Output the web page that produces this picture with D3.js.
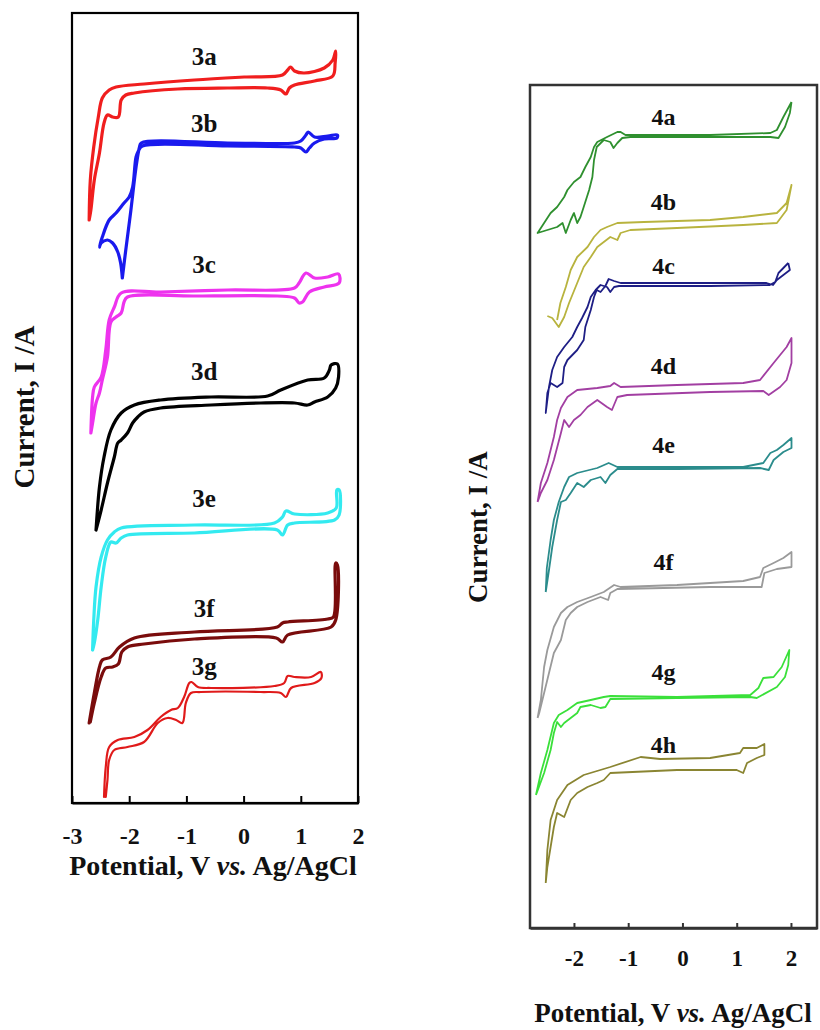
<!DOCTYPE html>
<html>
<head>
<meta charset="utf-8">
<script src="https://cdn.jsdelivr.net/npm/d3@7"></script>
<style>
  body { margin: 0; background: #ffffff; }
  svg { display: block; }
  text { font-family: "Liberation Serif", "Times New Roman", serif; font-weight: bold; fill: #111; }
</style>
</head>
<body>
<svg id="chart" width="820" height="1030"></svg>
<script>
// tick values for the two potential axes (V vs. Ag/AgCl)
const ticksLeft = [-3, -2, -1, 0, 1, 2];
const ticksRight = [-2, -1, 0, 1, 2];

// cyclic voltammograms, [potential V, current a.u. (stacked)]
const cv3a = [[-2.70,583],[-2.68,623],[-2.62,656],[-2.54,686],[-2.47,705],[-2.35,713],[-2.23,716],[-1.74,719],[-0.86,723],[0.01,726],[0.68,728],[0.77,733],[0.82,736],[0.89,732],[1.06,730],[1.41,735],[1.56,743],[1.61,752],[1.60,740],[1.56,727],[1.24,722],[0.89,718],[0.80,715],[0.74,709],[0.65,713],[0.42,715],[-0.28,715],[-1.15,714],[-1.91,710],[-2.06,708],[-2.14,703],[-2.19,686],[-2.29,686],[-2.38,688],[-2.44,680],[-2.52,650],[-2.61,623],[-2.67,593],[-2.70,583]];
const cv3b = [[-2.12,525],[-2.06,553],[-1.97,593],[-1.88,636],[-1.82,656],[-1.79,660],[-0.28,660],[0.89,660],[1.00,662],[1.09,668],[1.13,671],[1.24,666],[1.47,667],[1.64,668],[1.63,665],[1.41,664],[1.24,660],[1.15,655],[1.09,651],[1.00,655],[0.89,656],[-0.28,657],[-1.77,657],[-1.84,652],[-1.88,646],[-1.94,616],[-2.00,606],[-2.09,600],[-2.23,590],[-2.35,583],[-2.47,566],[-2.52,556],[-2.49,560],[-2.38,563],[-2.29,560],[-2.20,551],[-2.15,540],[-2.12,525]];
const cv3c = [[-2.67,370],[-2.64,406],[-2.61,416],[-2.49,426],[-2.41,453],[-2.35,483],[-2.26,496],[-2.14,510],[-1.45,511],[-0.28,513],[0.89,515],[0.97,520],[1.09,530],[1.24,525],[1.47,526],[1.66,529],[1.67,520],[1.41,516],[1.15,511],[1.03,501],[0.97,500],[0.89,505],[0.59,507],[-0.86,507],[-2.03,506],[-2.09,501],[-2.14,490],[-2.23,486],[-2.32,481],[-2.38,446],[-2.47,423],[-2.52,410],[-2.58,400],[-2.64,380],[-2.67,370]];
const cv3d = [[-2.58,273],[-2.52,316],[-2.44,346],[-2.32,373],[-2.14,390],[-1.91,398],[-1.45,403],[-0.57,406],[0.42,407],[0.65,413],[1.12,423],[1.41,425],[1.50,433],[1.53,438],[1.64,439],[1.66,426],[1.61,415],[1.47,406],[1.24,401],[1.12,398],[0.89,400],[0.30,400],[-0.57,398],[-1.45,395],[-1.74,391],[-1.85,386],[-1.94,380],[-2.03,370],[-2.14,363],[-2.20,360],[-2.26,346],[-2.38,320],[-2.49,293],[-2.58,273]];
const cv3e = [[-2.64,153],[-2.62,183],[-2.58,216],[-2.49,246],[-2.38,263],[-2.26,271],[-2.14,275],[-0.86,278],[0.54,280],[0.68,286],[0.74,292],[0.89,289],[1.47,290],[1.62,295],[1.63,313],[1.67,313],[1.67,288],[1.59,283],[0.89,280],[0.77,278],[0.68,268],[0.59,273],[-0.86,270],[-2.03,268],[-2.14,265],[-2.23,260],[-2.32,261],[-2.41,246],[-2.49,216],[-2.55,183],[-2.61,160],[-2.64,153]];
const cv3f = [[-2.70,80],[-2.61,110],[-2.52,136],[-2.47,143],[-2.32,146],[-2.17,156],[-1.91,165],[-0.86,171],[0.59,176],[0.68,180],[0.77,181],[1.47,184],[1.57,186],[1.61,240],[1.64,238],[1.61,183],[1.53,176],[0.77,168],[0.68,161],[0.57,165],[-0.86,164],[-1.74,159],[-2.03,156],[-2.13,151],[-2.19,139],[-2.29,136],[-2.41,135],[-2.49,126],[-2.61,100],[-2.68,81]];
const cv3g = [[-2.44,6],[-2.41,36],[-2.35,56],[-2.20,63],[-1.91,66],[-1.68,73],[-1.45,86],[-1.27,93],[-1.15,95],[-1.04,106],[-0.95,120],[-0.91,121],[-0.80,116],[-0.57,115],[0.54,117],[0.71,120],[0.77,127],[0.89,126],[1.18,126],[1.35,131],[1.36,125],[1.24,120],[0.83,115],[0.74,106],[0.65,110],[0.30,111],[-0.75,111],[-0.92,110],[-1.01,100],[-1.07,80],[-1.18,83],[-1.33,85],[-1.50,80],[-1.74,61],[-2.03,56],[-2.26,53],[-2.35,43],[-2.38,23],[-2.41,6]];

const cv4a = [[2.01,826],[1.98,815],[1.89,801],[1.77,790],[1.62,791],[0.51,791],[-0.96,791],[-1.11,790],[-1.20,785],[-1.27,780],[-1.33,786],[-1.45,788],[-1.58,781],[-1.63,768],[-1.66,751],[-1.72,738],[-1.82,721],[-1.88,711],[-1.94,705],[-2.00,715],[-2.06,708],[-2.15,695],[-2.21,705],[-2.31,701],[-2.49,698],[-2.67,695],[-2.55,705],[-2.43,715],[-2.31,721],[-2.18,731],[-2.12,738],[-2.00,746],[-1.88,751],[-1.79,761],[-1.69,771],[-1.63,781],[-1.57,786],[-1.39,791],[-1.20,796],[-1.14,796],[-1.05,793],[0.51,793],[1.62,795],[1.74,798],[1.86,811],[2.01,826]];
const cv4b = [[-2.49,612],[-2.40,610],[-2.28,601],[-2.18,611],[-2.09,625],[-1.94,645],[-1.82,661],[-1.69,671],[-1.57,681],[-1.33,691],[-1.20,688],[-1.14,695],[-0.96,698],[-0.10,700],[1.12,703],[1.74,705],[1.92,718],[2.01,743],[1.92,725],[1.74,715],[1.12,711],[0.51,708],[-0.71,706],[-1.20,705],[-1.39,701],[-1.51,698],[-1.63,691],[-1.75,681],[-1.94,671],[-2.06,658],[-2.15,641],[-2.25,625],[-2.31,608]];
const cv4c = [[1.95,665],[1.98,658],[1.86,653],[1.74,648],[1.67,643],[1.55,645],[0.51,645],[-1.14,645],[-1.26,647],[-1.36,649],[-1.42,642],[-1.51,636],[-1.58,638],[-1.63,631],[-1.69,618],[-1.79,601],[-1.82,588],[-1.94,578],[-2.12,568],[-2.18,561],[-2.21,545],[-2.31,541],[-2.43,545],[-2.49,535],[-2.52,515],[-2.46,541],[-2.40,558],[-2.31,571],[-2.18,581],[-2.03,591],[-1.94,601],[-1.85,610],[-1.75,621],[-1.69,631],[-1.60,638],[-1.51,643],[-1.39,641],[-1.33,636],[-1.26,641],[-1.17,642],[0.51,642],[1.61,643],[1.71,646],[1.77,655],[1.86,660],[1.95,665]];
const cv4d = [[-2.67,426],[-2.61,445],[-2.49,465],[-2.37,491],[-2.31,508],[-2.24,520],[-2.12,531],[-1.94,538],[-1.57,540],[-1.33,542],[-1.26,545],[-1.14,541],[-0.10,543],[1.12,545],[1.43,548],[1.68,565],[1.80,573],[1.92,581],[2.01,590],[2.01,565],[1.92,548],[1.80,541],[1.59,533],[1.49,537],[0.51,536],[-1.02,533],[-1.20,531],[-1.30,518],[-1.39,521],[-1.57,528],[-1.75,521],[-1.88,513],[-2.00,508],[-2.09,501],[-2.18,508],[-2.24,495],[-2.37,468],[-2.49,448],[-2.61,435],[-2.67,426]];
const cv4e = [[-2.52,336],[-2.50,360],[-2.43,388],[-2.37,408],[-2.28,426],[-2.18,441],[-2.09,451],[-1.94,455],[-1.57,460],[-1.36,465],[-1.20,461],[-0.10,461],[1.12,461],[1.49,465],[1.62,475],[1.74,478],[1.86,483],[2.01,490],[2.01,480],[1.86,476],[1.68,468],[1.59,458],[1.43,460],[-0.10,459],[-1.20,459],[-1.33,453],[-1.42,445],[-1.51,451],[-1.69,448],[-1.82,441],[-1.94,445],[-2.06,435],[-2.15,428],[-2.24,426],[-2.31,408],[-2.40,381],[-2.46,358],[-2.52,336]];
const cv4f = [[-2.67,210],[-2.61,228],[-2.55,261],[-2.49,278],[-2.37,301],[-2.24,315],[-2.12,321],[-1.94,326],[-1.69,331],[-1.45,336],[-1.26,343],[-1.14,341],[-0.10,343],[1.12,347],[1.43,351],[1.49,360],[1.68,365],[1.86,370],[2.01,376],[2.01,361],[1.74,359],[1.51,355],[1.46,341],[0.51,341],[-1.20,339],[-1.33,335],[-1.37,328],[-1.51,331],[-1.75,326],[-1.94,321],[-2.06,315],[-2.15,308],[-2.24,288],[-2.37,275],[-2.46,255],[-2.55,235],[-2.64,215],[-2.67,210]];
const cv4g = [[-2.70,133],[-2.61,155],[-2.49,178],[-2.37,205],[-2.28,213],[-2.12,218],[-1.94,225],[-1.69,228],[-1.45,231],[-1.33,232],[-0.10,231],[1.25,233],[1.40,240],[1.49,250],[1.68,251],[1.83,261],[1.97,278],[1.95,263],[1.89,251],[1.74,241],[1.37,230],[1.25,231],[-0.10,230],[-1.33,229],[-1.42,221],[-1.51,220],[-1.69,223],[-1.88,221],[-1.94,215],[-2.06,210],[-2.18,205],[-2.24,201],[-2.31,206],[-2.37,195],[-2.43,178],[-2.55,155],[-2.70,133]];
const cv4h = [[-2.52,45],[-2.49,78],[-2.43,108],[-2.31,128],[-2.12,143],[-1.82,153],[-1.33,161],[-0.77,171],[-0.41,169],[0.51,170],[1.06,175],[1.12,180],[1.37,180],[1.51,184],[1.51,173],[1.37,170],[1.19,165],[1.12,155],[1.00,158],[-0.10,158],[-1.33,155],[-1.45,148],[-1.57,145],[-1.75,141],[-1.94,135],[-2.06,128],[-2.18,111],[-2.31,115],[-2.37,101],[-2.43,81],[-2.49,61],[-2.52,45]];

// sample names, label anchor [V, current]
const leftNames = ["3a", "3b", "3c", "3d", "3e", "3f", "3g"];
const leftLabelAt = [[-0.69,738],[-0.69,671],[-0.69,530],[-0.69,423],[-0.69,296],[-0.69,186],[-0.69,128]];
const rightNames = ["4a", "4b", "4c", "4d", "4e", "4f", "4g", "4h"];
const rightLabelAt = [[-0.35,803],[-0.35,718],[-0.35,654],[-0.35,554],[-0.35,475],[-0.35,358],[-0.35,248],[-0.35,175]];

const leftCurves = [cv3a, cv3b, cv3c, cv3d, cv3e, cv3f, cv3g];
const leftColors = ["#f01e1e", "#1a1aee", "#ee33ee", "#000000", "#33eaf0", "#7a0c0c", "#e01a1a"];
const leftWidths = [3.2, 3.2, 3.2, 3.2, 3.2, 3.2, 2.2];
const rightCurves = [cv4a, cv4b, cv4c, cv4d, cv4e, cv4f, cv4g, cv4h];
const rightColors = ["#2f902f", "#b8b33e", "#1e1e85", "#a23fa2", "#2b8c8c", "#9a9a9a", "#3ae03a", "#8a8532"];

const svg = d3.select("#chart");

// ---------- left panel ----------
const xL = d3.scaleLinear().domain([-3, 2]).range([72, 358]);
const yL = d3.scaleLinear().domain([0, 790]).range([803, 13]);

const gL = svg.append("g");
gL.append("rect")
    .attr("x", xL(-3)).attr("y", yL(790))
    .attr("width", xL(2) - xL(-3)).attr("height", yL(0) - yL(790))
    .attr("fill", "none").attr("stroke", "#000").attr("stroke-width", 2.2);

const lineL = d3.line().x(d => xL(d[0])).y(d => yL(d[1])).curve(d3.curveCatmullRom.alpha(0.5));
gL.selectAll("path.cv")
    .data(leftCurves)
    .enter()
    .append("path")
    .attr("class", "cv")
    .attr("d", lineL)
    .attr("fill", "none")
    .attr("stroke", (d, i) => leftColors[i])
    .attr("stroke-width", (d, i) => leftWidths[i])
    .attr("stroke-linejoin", "round")
    .attr("stroke-linecap", "round");

gL.selectAll("text.name")
    .data(leftNames)
    .enter()
    .append("text")
    .attr("class", "name")
    .attr("x", (d, i) => xL(leftLabelAt[i][0]))
    .attr("y", (d, i) => yL(leftLabelAt[i][1]))
    .attr("text-anchor", "middle")
    .style("font-size", "25px")
    .text(d => d);

const axisL = gL.append("g")
    .attr("transform", `translate(0,${yL(0)})`)
    .call(d3.axisBottom(xL).tickValues(ticksLeft).tickSizeInner(-7).tickSizeOuter(0).tickPadding(24).tickFormat(d => String(d)));
axisL.select(".domain").attr("stroke", "#000").attr("stroke-width", 2.2);
axisL.selectAll(".tick line").attr("stroke", "#000").attr("stroke-width", 2);
axisL.selectAll(".tick text").style("font-size", "24px").attr("fill", "#111");

const titleL = gL.append("text")
    .attr("x", 213).attr("y", 875)
    .attr("text-anchor", "middle")
    .style("font-size", "28px");
titleL.append("tspan").text("Potential, V ");
titleL.append("tspan").style("font-style", "italic").text("vs.");
titleL.append("tspan").text(" Ag/AgCl");

gL.append("text")
    .attr("transform", "translate(24,407) rotate(-90)")
    .attr("dy", "0.35em")
    .attr("text-anchor", "middle")
    .style("font-size", "29px")
    .text("Current, I /A");

// ---------- right panel ----------
const xR = d3.scaleLinear().domain([-2.81, 2.48]).range([530, 817]);
const yR = d3.scaleLinear().domain([0, 843]).range([928, 85]);

const gR = svg.append("g");
gR.append("rect")
    .attr("x", xR(-2.81)).attr("y", yR(843))
    .attr("width", xR(2.48) - xR(-2.81)).attr("height", yR(0) - yR(843))
    .attr("fill", "none").attr("stroke", "#333").attr("stroke-width", 2.5);

const lineR = d3.line().x(d => xR(d[0])).y(d => yR(d[1]));
gR.selectAll("path.cv")
    .data(rightCurves)
    .enter()
    .append("path")
    .attr("class", "cv")
    .attr("d", lineR)
    .attr("fill", "none")
    .attr("stroke", (d, i) => rightColors[i])
    .attr("stroke-width", 1.8)
    .attr("stroke-linejoin", "round");

gR.selectAll("text.name")
    .data(rightNames)
    .enter()
    .append("text")
    .attr("class", "name")
    .attr("x", (d, i) => xR(rightLabelAt[i][0]))
    .attr("y", (d, i) => yR(rightLabelAt[i][1]))
    .attr("text-anchor", "middle")
    .style("font-size", "24px")
    .text(d => d);

const axisR = gR.append("g")
    .attr("transform", `translate(0,${yR(0)})`)
    .call(d3.axisBottom(xR).tickValues(ticksRight).tickSizeInner(-5).tickSizeOuter(0).tickPadding(22).tickFormat(d => String(d)));
axisR.select(".domain").attr("stroke", "#333").attr("stroke-width", 2.5);
axisR.selectAll(".tick line").attr("stroke", "#333").attr("stroke-width", 2);
axisR.selectAll(".tick text").style("font-size", "23px").attr("fill", "#222");

const titleR = gR.append("text")
    .attr("x", 673).attr("y", 1022)
    .attr("text-anchor", "middle")
    .style("font-size", "27px");
titleR.append("tspan").text("Potential, V ");
titleR.append("tspan").style("font-style", "italic").text("vs.");
titleR.append("tspan").text(" Ag/AgCl");

gR.append("text")
    .attr("transform", "translate(478,527) rotate(-90)")
    .attr("dy", "0.35em")
    .attr("text-anchor", "middle")
    .style("font-size", "27px")
    .text("Current, I /A");
</script>
</body>
</html>
